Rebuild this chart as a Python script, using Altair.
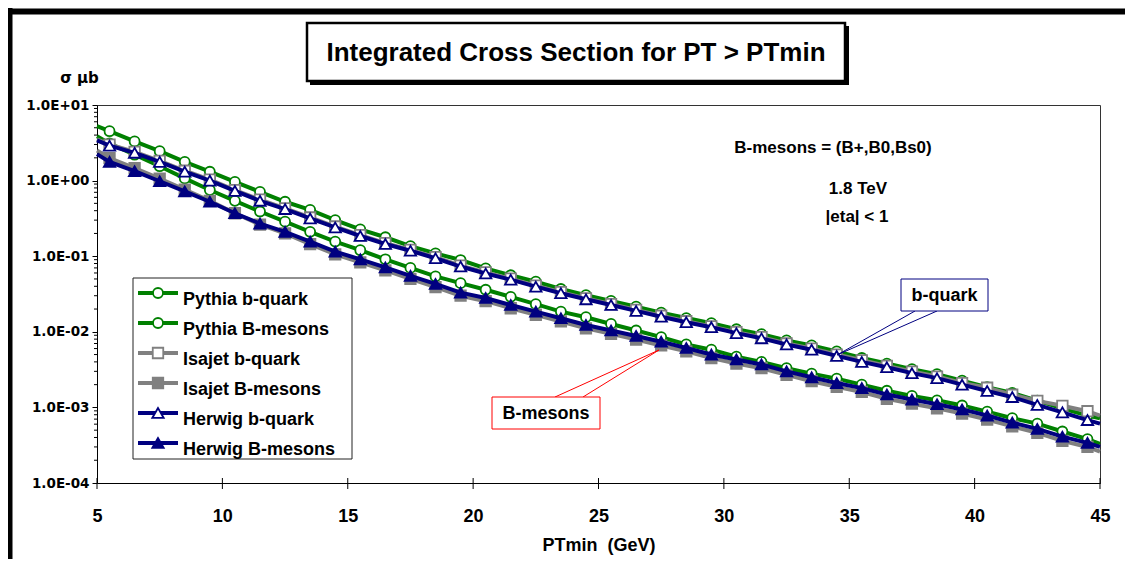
import altair as alt
import pandas as pd

# ---------------- data ----------------
PT = [5.5, 6.5, 7.5, 8.5, 9.5, 10.5, 11.5, 12.5, 13.5, 14.5,
      15.5, 16.5, 17.5, 18.5, 19.5, 20.5, 21.5, 22.5, 23.5, 24.5,
      25.5, 26.5, 27.5, 28.5, 29.5, 30.5, 31.5, 32.5, 33.5, 34.5,
      35.5, 36.5, 37.5, 38.5, 39.5, 40.5, 41.5, 42.5, 43.5, 44.5]
PT_START = 5
PT_END = 45

SERIES = ["Pythia b-quark", "Pythia B-mesons", "Isajet b-quark",
          "Isajet B-mesons", "Herwig b-quark", "Herwig B-mesons"]

PYTHIA_BQ = [4.5, 3.3, 2.45, 1.77, 1.31, 0.96, 0.71, 0.525, 0.41, 0.30,
             0.226, 0.178, 0.136, 0.109, 0.089, 0.069, 0.056, 0.046, 0.0368, 0.0305,
             0.0256, 0.0215, 0.0179, 0.0152, 0.0130, 0.0108, 0.0093, 0.0077, 0.0066, 0.0055,
             0.0045, 0.0038, 0.0032, 0.00275, 0.00226, 0.00185, 0.00155, 0.00123, 0.00097, 0.00078]
PYTHIA_BM = [3.1, 2.2, 1.55, 1.07, 0.75, 0.54, 0.39, 0.286, 0.21, 0.156,
             0.12, 0.091, 0.070, 0.054, 0.044, 0.036, 0.029, 0.0232, 0.0185, 0.0156,
             0.0127, 0.0104, 0.0085, 0.0068, 0.0058, 0.0047, 0.0040, 0.0033, 0.0028, 0.0024,
             0.0020, 0.00166, 0.00142, 0.00124, 0.00106, 0.00088, 0.00072, 0.00061, 0.00048, 0.00038]
ISAJET_BQ = [3.0, 2.4, 1.82, 1.35, 1.03, 0.75, 0.56, 0.43, 0.325, 0.247,
             0.19, 0.149, 0.121, 0.097, 0.075, 0.061, 0.0505, 0.0408, 0.0334, 0.0277,
             0.0233, 0.0195, 0.0163, 0.0138, 0.0118, 0.0099, 0.0085, 0.0070, 0.0060, 0.0050,
             0.0042, 0.00354, 0.00298, 0.00256, 0.0021, 0.00182, 0.00147, 0.00122, 0.00105, 0.00089]
ISAJET_BM = [1.98, 1.46, 1.06, 0.76, 0.54, 0.37, 0.262, 0.20, 0.144, 0.106,
             0.083, 0.065, 0.050, 0.039, 0.030, 0.0254, 0.0205, 0.0168, 0.0137, 0.0111,
             0.0094, 0.0079, 0.0066, 0.0055, 0.0045, 0.0038, 0.0033, 0.0027, 0.00222, 0.00187,
             0.0016, 0.0013, 0.00112, 0.00097, 0.00083, 0.00069, 0.00056, 0.00046, 0.00036, 0.00030]
HERWIG_BQ = [2.9, 2.33, 1.77, 1.31, 1.00, 0.73, 0.54, 0.42, 0.316, 0.24,
             0.185, 0.145, 0.118, 0.094, 0.073, 0.059, 0.049, 0.0396, 0.0324, 0.0269,
             0.0226, 0.0189, 0.0158, 0.0134, 0.0115, 0.0096, 0.0082, 0.0068, 0.0058, 0.0048,
             0.0040, 0.0034, 0.00284, 0.00244, 0.0020, 0.00165, 0.00137, 0.00108, 0.00086, 0.00068]
HERWIG_BM = [1.77, 1.33, 0.98, 0.72, 0.525, 0.37, 0.27, 0.21, 0.156, 0.115,
             0.091, 0.071, 0.055, 0.043, 0.033, 0.028, 0.0226, 0.0185, 0.0151, 0.0123,
             0.0104, 0.0088, 0.0074, 0.0061, 0.0050, 0.0043, 0.0037, 0.0030, 0.0025, 0.0021,
             0.0018, 0.00148, 0.00127, 0.00110, 0.00094, 0.00078, 0.00063, 0.00052, 0.00041, 0.00034]

# line values where the curves meet the left (PT=5) and right (PT=45) edges
START_VALUES = [5.25, 3.86, 3.5, 2.5, 3.4, 2.24]
END_VALUES = [0.00072, 0.00033, 0.00078, 0.00026, 0.00061, 0.00030]

VALUES = [PYTHIA_BQ, PYTHIA_BM, ISAJET_BQ, ISAJET_BM, HERWIG_BQ, HERWIG_BM]

X_TICKS = [5, 10, 15, 20, 25, 30, 35, 40, 45]
Y_TICKS = [1e-4, 1e-3, 1e-2, 1e-1, 1, 10]

# ---------------- styles ----------------
GREEN, GRAY, NAVY = "#008000", "#808080", "#000080"
STYLE = {
    "Pythia b-quark": (GREEN, "circle", "white"),
    "Pythia B-mesons": (GREEN, "circle", "white"),
    "Isajet b-quark": (GRAY, "square", "white"),
    "Isajet B-mesons": (GRAY, "square", GRAY),
    "Herwig b-quark": (NAVY, "triangle-up", "white"),
    "Herwig B-mesons": (NAVY, "triangle-up", NAVY),
}
SIZE = {"circle": 100, "square": 110, "triangle-up": 130}
SANS = "Liberation Sans"
WIDE = "DejaVu Sans"
W, H = 1003, 378

x_enc = alt.X("pt:Q",
              scale=alt.Scale(domain=[5, 45], nice=False, zero=False),
              title="PTmin\u00a0\u00a0(GeV)",
              axis=alt.Axis(values=X_TICKS, format="d", ticks=False, grid=False,
                            labelFont=SANS, labelFontSize=18, labelFontWeight="bold",
                            labelColor="black", labelPadding=24, labelFlush=False,
                            labelOverlap=False, domainColor="black",
                            titleFont=SANS, titleFontSize=18, titleFontWeight="bold",
                            titleColor="black", titlePadding=11))
y_enc = alt.Y("v:Q",
              scale=alt.Scale(type="log", domain=[1e-4, 10], nice=False),
              title="σ  μb",
              axis=alt.Axis(values=Y_TICKS, grid=False,
                            labelExpr="'1.0E' + (datum.value >= 1 ? '+' : '-') + '0' + abs(round(log(datum.value)/LN10))",
                            labelFont=WIDE, labelFontSize=13.5, labelFontWeight="bold",
                            labelColor="black", labelPadding=3, labelFlush=False,
                            labelOverlap=False, tickSize=5, tickColor="black",
                            domainColor="black",
                            titleAngle=0, titleX=-18, titleY=-23, titleAlign="center",
                            titleBaseline="alphabetic", titleFont=WIDE, titleFontSize=15,
                            titleFontWeight="bold", titleColor="black"))

one = pd.DataFrame({"a": [0]})
layers = []

# decorative frame of the page (thick black lines top and left)
layers.append(alt.Chart(one).mark_rule(color="black", strokeWidth=6).encode(
    x=alt.value(-97), x2=alt.value(1028), y=alt.value(-93.5)))
layers.append(alt.Chart(one).mark_rule(color="black", strokeWidth=6).encode(
    x=alt.value(-87.5), y=alt.value(-97), y2=alt.value(480)))

# title box with shadow
layers.append(alt.Chart(one).mark_rect(color="black").encode(
    x=alt.value(213), x2=alt.value(752), y=alt.value(-79), y2=alt.value(-20)))
layers.append(alt.Chart(one).mark_rect(fill="white", stroke="black", strokeWidth=2.5).encode(
    x=alt.value(210), x2=alt.value(748), y=alt.value(-82), y2=alt.value(-24)))
layers.append(alt.Chart(pd.DataFrame({"t": ["Integrated Cross Section for PT > PTmin"]}))
              .mark_text(font=SANS, fontSize=26, fontWeight="bold", color="black",
                         align="center", baseline="middle")
              .encode(x=alt.value(479), y=alt.value(-52), text="t:N"))

# minor ticks on the log axis
minor = pd.DataFrame({"v": [m * 10.0 ** e for e in range(-4, 1) for m in range(2, 10)]})
layers.append(alt.Chart(minor).mark_rule(color="black", strokeWidth=1).encode(
    y=y_enc, x=alt.value(-3), x2=alt.value(0)))
# x ticks crossing the axis
layers.append(alt.Chart(pd.DataFrame({"pt": X_TICKS})).mark_rule(color="black", strokeWidth=1).encode(
    x=x_enc, y=alt.value(H - 5), y2=alt.value(H + 6)))

# data series
for name, vals, v0, v1 in zip(SERIES, VALUES, START_VALUES, END_VALUES):
    color, shape, fill = STYLE[name]
    line_df = pd.DataFrame({"pt": [PT_START] + PT + [PT_END], "v": [v0] + vals + [v1]})
    pt_df = pd.DataFrame({"pt": PT, "v": vals})
    layers.append(alt.Chart(line_df).mark_line(color=color, strokeWidth=4)
                  .encode(x=x_enc, y=y_enc, order="pt:Q"))
    layers.append(alt.Chart(pt_df).mark_point(shape=shape, size=SIZE[shape], filled=True,
                                              fill=fill, stroke=color, strokeWidth=1.8,
                                              opacity=1)
                  .encode(x=x_enc, y=y_enc))

# text annotations
for txt, px, py in [("B-mesons = (B+,B0,Bs0)", 736, 43), ("1.8 TeV", 761, 84), ("|eta| < 1", 760, 112)]:
    layers.append(alt.Chart(pd.DataFrame({"t": [txt]}))
                  .mark_text(font=SANS, fontSize=17, fontWeight="bold", color="black",
                             align="center", baseline="middle")
                  .encode(x=alt.value(px), y=alt.value(py), text="t:N"))

# callouts
def callout(label, box, lines, tip, color):
    out = []
    for (sx, sy) in lines:
        out.append(alt.Chart(one).mark_rule(color=color, strokeWidth=1).encode(
            x=alt.value(sx), y=alt.value(sy), x2=alt.value(tip[0]), y2=alt.value(tip[1])))
    x1, y1, x2, y2 = box
    out.append(alt.Chart(one).mark_rect(fill="white", stroke=color, strokeWidth=1).encode(
        x=alt.value(x1), x2=alt.value(x2), y=alt.value(y1), y2=alt.value(y2)))
    out.append(alt.Chart(pd.DataFrame({"t": [label]}))
               .mark_text(font=SANS, fontSize=18, fontWeight="bold", color="black",
                          align="center", baseline="middle")
               .encode(x=alt.value((x1 + x2) / 2), y=alt.value((y1 + y2) / 2 + 1), text="t:N"))
    return out

layers += callout("b-quark", (804, 174, 891, 206), [(818, 206), (840, 206)], (740, 250), NAVY)
layers += callout("B-mesons", (395, 292, 503, 324), [(458, 292), (486, 292)], (562, 245), "#FF0000")

# legend box
layers.append(alt.Chart(one).mark_rect(fill="white", stroke="#222222", strokeWidth=1).encode(
    x=alt.value(36), x2=alt.value(255), y=alt.value(173), y2=alt.value(354)))
for i, name in enumerate(SERIES):
    color, shape, fill = STYLE[name]
    ly = 188 + 30 * i
    layers.append(alt.Chart(one).mark_rule(color=color, strokeWidth=4).encode(
        x=alt.value(41), x2=alt.value(81), y=alt.value(ly)))
    layers.append(alt.Chart(one).mark_point(shape=shape, size=SIZE[shape], filled=True,
                                            fill=fill, stroke=color, strokeWidth=1.8,
                                            opacity=1)
                  .encode(x=alt.value(61), y=alt.value(ly)))
    layers.append(alt.Chart(pd.DataFrame({"t": [name]}))
                  .mark_text(font=SANS, fontSize=18, fontWeight="bold", color="black",
                             align="left", baseline="alphabetic")
                  .encode(x=alt.value(86), y=alt.value(ly + 12), text="t:N"))

chart = (alt.layer(*layers)
         .properties(width=W, height=H,
                     autosize=alt.AutoSizeParams(type="none"),
                     padding={"left": 89, "top": 97, "right": 25, "bottom": 76},
                     background="white")
         .configure_view(stroke="#333333", strokeWidth=1))

chart.save("out.html", embed_options={"renderer": "svg", "actions": False})
